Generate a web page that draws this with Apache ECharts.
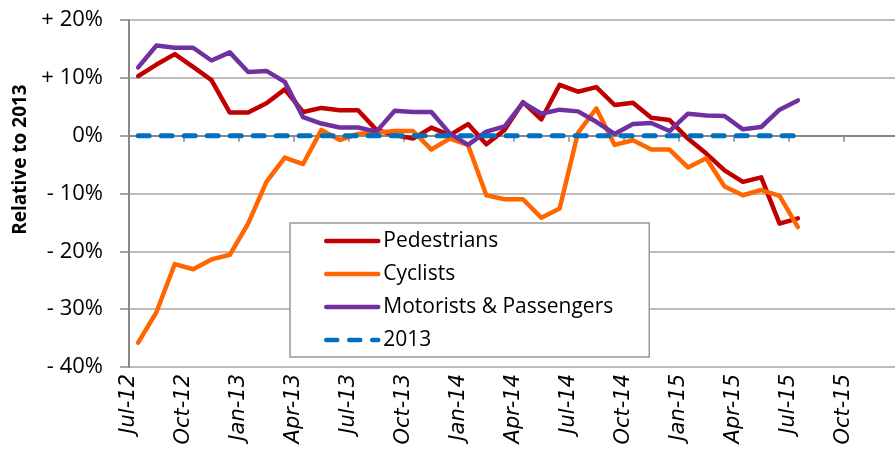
<!DOCTYPE html>
<html>
<head>
<meta charset="utf-8">
<script src="https://cdn.jsdelivr.net/npm/echarts@6/dist/echarts.min.js"></script>
<style>
  html, body { margin: 0; padding: 0; background: #fff; }
  #chart { width: 895px; height: 460px; }
</style>
</head>
<body>
<div id="chart"></div>
<script>
// months with data, Jul-12 .. Jul-15
const months = [
  'Jul-12', 'Aug-12', 'Sep-12', 'Oct-12', 'Nov-12', 'Dec-12',
  'Jan-13', 'Feb-13', 'Mar-13', 'Apr-13', 'May-13', 'Jun-13',
  'Jul-13', 'Aug-13', 'Sep-13', 'Oct-13', 'Nov-13', 'Dec-13',
  'Jan-14', 'Feb-14', 'Mar-14', 'Apr-14', 'May-14', 'Jun-14',
  'Jul-14', 'Aug-14', 'Sep-14', 'Oct-14', 'Nov-14', 'Dec-14',
  'Jan-15', 'Feb-15', 'Mar-15', 'Apr-15', 'May-15', 'Jun-15',
  'Jul-15'
]

// x axis ticks every 3 months
const xTickLabels = [
  'Jul-12', 'Oct-12', 'Jan-13', 'Apr-13', 'Jul-13', 'Oct-13', 'Jan-14',
  'Apr-14', 'Jul-14', 'Oct-14', 'Jan-15', 'Apr-15', 'Jul-15', 'Oct-15'
]

const yTickLabels = ['- 40%', '- 30%', '- 20%', '- 10%', '0%', '+ 10%', '+ 20%']

const pedestrians = [
  10.3, 12.3, 14.1, 11.9, 9.6, 4.0, 4.0, 5.6, 8.0, 4.1, 4.8, 4.4,
  4.4, 1.0, 0.1, -0.5, 1.4, 0.1, 2.0, -1.5, 1.0, 5.8, 2.8, 8.8,
  7.6, 8.4, 5.3, 5.7, 3.1, 2.7, -0.5, -3.1, -6.0, -8.0, -7.2, -15.2,
  -14.3
]

const cyclists = [
  -35.8, -30.5, -22.2, -23.1, -21.4, -20.6, -15.2, -8.0, -3.8, -4.9, 1.0, -0.75,
  0.3, 0.5, 0.8, 0.8, -2.4, -0.5, -1.6, -10.3, -11.0, -11.0, -14.2, -12.6,
  0.5, 4.7, -1.6, -0.8, -2.4, -2.4, -5.5, -3.9, -8.8, -10.3, -9.4, -10.4,
  -15.8
]

const motorists = [
  11.8, 15.6, 15.2, 15.2, 13.0, 14.4, 11.0, 11.2, 9.3, 3.2, 2.1, 1.4,
  1.4, 0.7, 4.3, 4.1, 4.1, 0.4, -1.6, 0.7, 1.6, 5.7, 3.8, 4.5,
  4.2, 2.4, 0.3, 2.0, 2.2, 0.8, 3.8, 3.5, 3.4, 1.1, 1.5, 4.5,
  6.1
]

const base2013 = months.map(() => 0)

// date axis: each point sits in the middle of its month
function toPoints (arr) {
  return arr.map((v, i) => [i + 0.5, v])
}

const chart = echarts.init(document.getElementById('chart'))

const lineStyleBase = {
  width: 4.5,
  cap: 'round',
  join: 'round'
}

chart.setOption({
  animation: false,
  backgroundColor: '#fff',
  textStyle: { fontFamily: 'Open Sans' },
  grid: {
    left: 129,
    right: 0,
    top: 20,
    bottom: 93
  },
  legend: {
    orient: 'vertical',
    left: 290,
    top: 223,
    padding: [7, 36, 6, 34],
    itemWidth: 52,
    itemHeight: 10,
    itemGap: 11,
    borderColor: '#999',
    borderWidth: 1.5,
    backgroundColor: '#fff',
    itemStyle: { opacity: 0 },
    lineStyle: { width: 4.5 },
    textStyle: { color: '#000', fontSize: 21, fontFamily: 'Open Sans', lineHeight: 22 },
    data: ['Pedestrians', 'Cyclists', 'Motorists & Passengers', '2013']
  },
  xAxis: {
    type: 'value',
    min: 0,
    max: 41.8,
    interval: 3,
    axisLine: { lineStyle: { color: '#888', width: 2 } },
    axisTick: { show: true, length: 6, lineStyle: { color: '#888', width: 1.5 } },
    splitLine: { show: false },
    axisLabel: {
      rotate: 90,
      margin: 7,
      color: '#000',
      fontFamily: 'DejaVu Sans',
      fontStyle: 'italic',
      fontSize: 21,
      showMaxLabel: false,
      formatter: v => xTickLabels[Math.round(v / 3)] || ''
    }
  },
  yAxis: {
    type: 'value',
    min: -40,
    max: 20,
    interval: 10,
    name: 'Relative to 2013',
    nameLocation: 'middle',
    nameGap: 94,
    nameTextStyle: {
      fontFamily: 'Open Sans',
      fontWeight: 'bold',
      fontSize: 19,
      color: '#000',
      padding: [0, 0, 0, 68]
    },
    axisLine: { show: true, lineStyle: { color: '#888', width: 2 } },
    axisTick: { show: true, length: 9, lineStyle: { color: '#888', width: 1.5 } },
    splitLine: { lineStyle: { color: '#a6a6a6', width: 1.5 } },
    axisLabel: {
      margin: 26,
      color: '#000',
      fontFamily: 'Open Sans',
      fontSize: 22,
      formatter: v => yTickLabels[Math.round((v + 40) / 10)]
    }
  },
  series: [
    {
      name: 'Pedestrians',
      type: 'line',
      symbol: 'none',
      color: '#C00000',
      lineStyle: Object.assign({ color: '#C00000' }, lineStyleBase),
      data: toPoints(pedestrians)
    },
    {
      name: 'Cyclists',
      type: 'line',
      symbol: 'none',
      color: '#FF6600',
      lineStyle: Object.assign({ color: '#FF6600' }, lineStyleBase),
      data: toPoints(cyclists)
    },
    {
      name: 'Motorists & Passengers',
      type: 'line',
      symbol: 'none',
      color: '#7030A0',
      lineStyle: Object.assign({ color: '#7030A0' }, lineStyleBase),
      data: toPoints(motorists)
    },
    {
      name: '2013',
      type: 'line',
      symbol: 'none',
      color: '#0070C0',
      lineStyle: { color: '#0070C0', width: 5, cap: 'round', type: [11, 12] },
      data: toPoints(base2013)
    }
  ]
})
</script>
</body>
</html>
